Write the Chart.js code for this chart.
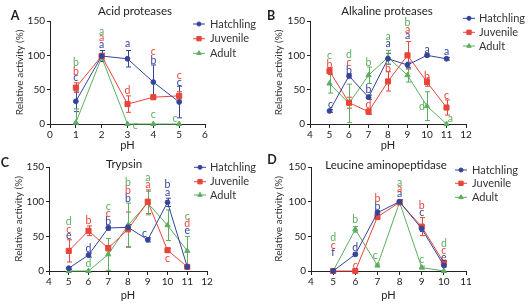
<!DOCTYPE html>
<html><head><meta charset="utf-8">
<script src="https://cdn.jsdelivr.net/npm/chart.js@4.4.0/dist/chart.umd.min.js"></script>
<style>
body{margin:0;background:#fff;}
#wrap{position:relative;width:528px;height:304px;}
canvas{position:absolute;}
</style></head><body>
<div id="wrap">
<canvas id="cA" width="264" height="152" style="left:0;top:0"></canvas>
<canvas id="cB" width="264" height="152" style="left:264px;top:0"></canvas>
<canvas id="cC" width="264" height="154" style="left:0;top:150px"></canvas>
<canvas id="cD" width="264" height="154" style="left:264px;top:150px"></canvas>
</div>
<script>
// A - acid proteases
const acidPH = [1, 2, 3, 4, 5];
const acidHatch = [33, 99, 95, 61, 32];
const acidHatchErr = [15, 8, 12, 25, 23];
const acidJuv = [53, 99, 29, 39, 41];
const acidJuvErr = [7, 4, 12, 3, 6];
const acidAdult = [2, 97, 0, 0, 0];
const acidAdultErr = [20, 4, 0, 0, 0];
// letters: [pH, letter, height]
const acidHatchTags = [[1,'c',68],[2,'a',116],[3,'a',117],[4,'b',93],[5,'c',61]];
const acidJuvTags = [[1,'b',77],[2,'a',126],[3,'d',49],[4,'c',105],[5,'c',71]];
const acidAdultTags = [[1,'b',89],[2,'a',135],[3.3,'c',-3],[4,'c',13],[4.84,'c',8]];

// B - alkaline proteases
const alkPH = [5, 6, 7, 8, 9, 10, 11];
const alkHatch = [19, 70, 39, 95, 86, 100, 95];
const alkHatchErr = [2, 3, 3, 8, 4, 2, 2];
const alkJuv = [77, 31, 18, 62, 100, 61, 24];
const alkJuvErr = [5, 8, 4, 14, 20, 6, 11];
const alkAdult = [59, 30, 71, 97, 71, 26, 0];
const alkAdultErr = [14, 28, 12, 10, 10, 21, 0];
const alkHatchTags = [[5.05,'c',28],[6,'b',78],[7,'b',50],[8,'a',117],[9,'a',129],[10,'a',108],[11,'a',105]];
const alkJuvTags = [[5,'b',87],[6,'c',90],[7,'d',28],[8,'b',80],[9,'a',137],[10,'b',69],[11,'c',41]];
const alkAdultTags = [[5,'c',100],[6,'d',101],[7,'b',90],[8,'a',127],[9,'b',147],[9.74,'d',26],[11.2,'a',8]];

// C - trypsin
const tryPH = [5, 6, 7, 8, 9, 10, 11];
const tryHatch = [4, 23, 62, 63, 45, 99, 6];
const tryHatchErr = [2, 3, 3, 4, 3, 6, 2];
const tryJuv = [29, 58, 33, 60, 100, 30, 6];
const tryJuvErr = [16, 7, 4, 25, 17, 3, 2];
const tryAdult = [0, 0, 24, 66, 98, 66, 29];
const tryAdultErr = [0, 0, 23, 32, 17, 22, 21];
const tryHatchTags = [[5,'e',51],[6,'d',32],[7,'b',71],[8,'b',105],[8.84,'c',54],[10,'a',113],[10,'b',124],[11,'e',58]];
const tryJuvTags = [[5,'c',60],[6,'b',73],[7,'c',83],[8,'b',116],[9,'a',124],[10,'c',18],[11,'d',69]];
const tryAdultTags = [[5,'d',71],[6,'d',11],[7,'c',93],[8,'b',128],[9,'a',134],[11,'c',78]];

// D - leucine aminopeptidase
const lapPH = [5, 6, 7, 8, 9, 10];
const lapHatch = [0, 24, 84, 100, 61, 8];
const lapHatchErr = [0, 2, 3, 3, 4, 2];
const lapJuv = [0, 0, 78, 99, 64, 12];
const lapJuvErr = [0, 0, 3, 3, 13, 3];
const lapAdult = [0, 60, 8, 99, 5, 0];
const lapAdultErr = [0, 4, 2, 3, 2, 0];
const lapHatchTags = [[5,'f',26],[6,'d',34],[7,'b',93],[8,'a',111],[9,'c',84],[10,'e',20]];
const lapJuvTags = [[5,'c',37],[6.0,'c',8],[7,'b',104],[8,'a',119],[9,'b',94],[10,'c',30]];
const lapAdultTags = [[5,'d',48],[6,'b',74],[6.9,'c',22],[8,'a',128],[9,'c',16],[10,'d',39]];

const yTicks = [0, 50, 100, 150];
const seriesNames = ['Hatchling', 'Juvenile', 'Adult'];
const colors = ['#34449a', '#e8443a', '#5cae5f'];
const shapes = ['circle', 'rect', 'triangle'];
const radii = [2.4, 3.6, 3];
const F = 'Lato, "Open Sans", sans-serif';

const decor = {
  id: 'decor',
  beforeDatasetsDraw(chart) {
    const ctx = chart.ctx, xs = chart.scales.x, ys = chart.scales.y;
    ctx.save();
    ctx.lineWidth = 1;
    chart.data.datasets.forEach(ds => {
      ctx.strokeStyle = ds.borderColor;
      ds.data.forEach((p, i) => {
        const e = ds.err[i];
        if (!e) return;
        const x = Math.round(xs.getPixelForValue(p.x)) + 0.5;
        const y1 = ys.getPixelForValue(p.y + e);
        const y2 = ys.getPixelForValue(Math.max(0, p.y - e));
        ctx.beginPath();
        ctx.moveTo(x, y1); ctx.lineTo(x, y2);
        ctx.moveTo(x - 2.5, y1); ctx.lineTo(x + 2.5, y1);
        ctx.moveTo(x - 2.5, y2); ctx.lineTo(x + 2.5, y2);
        ctx.stroke();
      });
    });
    ctx.restore();
  },
  afterDatasetsDraw(chart) {
    const ctx = chart.ctx, xs = chart.scales.x, ys = chart.scales.y;
    ctx.save();
    ctx.font = '10.5px ' + F;
    ctx.textAlign = 'center';
    ctx.textBaseline = 'middle';
    chart.data.datasets.forEach(ds => {
      ctx.fillStyle = ds.borderColor;
      ds.tags.forEach(t => ctx.fillText(t[1], xs.getPixelForValue(t[0]), ys.getPixelForValue(t[2])));
    });
    ctx.restore();
  },
  afterDraw(chart, args, o) {
    const ctx = chart.ctx;
    ctx.save();
    ctx.textBaseline = 'middle';
    ctx.fillStyle = '#222';
    ctx.textAlign = 'center';
    ctx.font = '11.5px ' + F;
    ctx.fillText(o.title, o.tx, o.ty);
    ctx.font = 'bold 12.5px ' + F;
    ctx.fillText(o.tag, o.lx, o.ly);
    ctx.font = '11px ' + F;
    ctx.textAlign = 'left';
    chart.data.datasets.forEach((ds, i) => {
      const y = o.rows[i];
      ctx.strokeStyle = ds.borderColor;
      ctx.fillStyle = ds.borderColor;
      ctx.lineWidth = 1;
      ctx.beginPath();
      ctx.moveTo(o.mx - 6, y); ctx.lineTo(o.mx + 6, y);
      ctx.stroke();
      Chart.helpers.drawPoint(ctx, {pointStyle: ds.pointStyle, radius: ds.pointRadius * 0.85, borderWidth: 1, rotation: 0}, o.mx, y);
      ctx.fillStyle = '#333';
      ctx.fillText(ds.label, o.textX, y);
    });
    ctx.restore();
  }
};

function panel(id, ph, vals, errs, tags, o) {
  const datasets = vals.map((v, k) => ({
    label: seriesNames[k],
    data: ph.map((p, i) => ({x: p, y: v[i]})),
    err: errs[k],
    tags: tags[k],
    borderColor: colors[k],
    backgroundColor: colors[k],
    borderWidth: 1,
    pointStyle: shapes[k],
    pointRadius: radii[k],
    pointBorderWidth: 1,
    clip: false
  }));
  new Chart(document.getElementById(id), {
    type: 'line',
    data: {datasets},
    options: {
      responsive: false,
      animation: false,
      devicePixelRatio: 1,
      layout: {padding: o.pad},
      plugins: {legend: {display: false}, tooltip: {enabled: false}, decor: o.decor},
      scales: {
        x: {
          type: 'linear', min: o.xmin, max: o.xmax,
          ticks: {stepSize: 1, color: '#222', font: {family: F, size: 10}, padding: 1, maxRotation: 0},
          grid: {drawOnChartArea: false, tickLength: 4, color: '#222'},
          border: {color: '#222'},
          title: {display: true, text: 'pH', color: '#222', font: {family: F, size: 11}, padding: {top: 0, bottom: o.xtb}},
          afterFit: s => { s.height = o.xh; }
        },
        y: {
          min: 0, max: 150,
          afterBuildTicks: s => { s.ticks = yTicks.map(v => ({value: v})); },
          ticks: {color: '#222', font: {family: F, size: 10}, padding: 2},
          grid: {drawOnChartArea: false, tickLength: 3, color: '#222'},
          border: {color: '#222'},
          title: {display: true, text: 'Relative activity (%)', color: '#333', font: {family: F, size: 10}, padding: {top: o.ytp, bottom: 0}},
          afterFit: s => { s.width = o.yw; }
        }
      }
    },
    plugins: [decor]
  });
}

panel('cA', acidPH, [acidHatch, acidJuv, acidAdult], [acidHatchErr, acidJuvErr, acidAdultErr],
  [acidHatchTags, acidJuvTags, acidAdultTags],
  {pad: {left: 0, top: 21, right: 59, bottom: 0}, yw: 50, xh: 28, xmin: 0, xmax: 6, ytp: 14, xtb: 0,
   decor: {title: 'Acid proteases', tx: 135, ty: 11, tag: 'A', lx: 15, ly: 16, mx: 199, textX: 210, rows: [24, 38.7, 53.3]}});

panel('cB', alkPH, [alkHatch, alkJuv, alkAdult], [alkHatchErr, alkJuvErr, alkAdultErr],
  [alkHatchTags, alkJuvTags, alkAdultTags],
  {pad: {left: 0, top: 21, right: 62, bottom: 0}, yw: 46, xh: 28, xmin: 4, xmax: 12, ytp: 9, xtb: 0,
   decor: {title: 'Alkaline proteases', tx: 123, ty: 11, tag: 'B', lx: 7, ly: 16, mx: 205, textX: 215, rows: [18.3, 32.3, 46]}});

panel('cC', tryPH, [tryHatch, tryJuv, tryAdult], [tryHatchErr, tryJuvErr, tryAdultErr],
  [tryHatchTags, tryJuvTags, tryAdultTags],
  {pad: {left: 0, top: 17, right: 57, bottom: 0}, yw: 49, xh: 33, xmin: 4, xmax: 12, ytp: 13, xtb: 2,
   decor: {title: 'Trypsin', tx: 124, ty: 14, tag: 'C', lx: 5, ly: 13, mx: 200, textX: 210, rows: [17.3, 31.7, 45]}});

panel('cD', lapPH, [lapHatch, lapJuv, lapAdult], [lapHatchErr, lapJuvErr, lapAdultErr],
  [lapHatchTags, lapJuvTags, lapAdultTags],
  {pad: {left: 0, top: 17, right: 62, bottom: 0}, yw: 47, xh: 33, xmin: 4, xmax: 11, ytp: 9, xtb: 2,
   decor: {title: 'Leucine aminopeptidase', tx: 122, ty: 15, tag: 'D', lx: 8, ly: 10, mx: 197, textX: 208, rows: [20, 33.3, 47.3]}});
</script>
</body></html>
